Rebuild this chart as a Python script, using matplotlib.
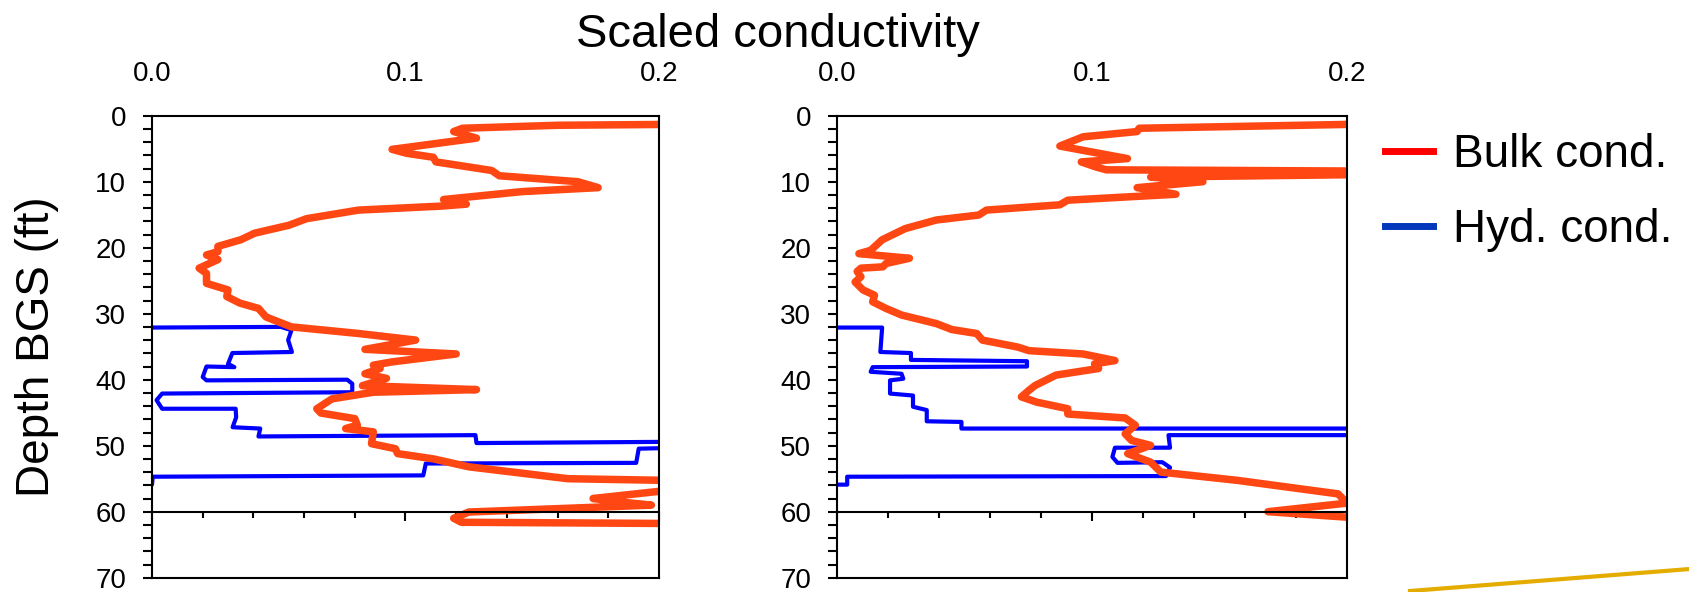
import matplotlib.pyplot as plt
from matplotlib.lines import Line2D
from matplotlib.ticker import MultipleLocator, FormatStrFormatter

plt.rcParams['font.family'] = ['Liberation Sans', 'DejaVu Sans']

# left log
left_bulk_x = [0.21, 0.16, 0.1225, 0.119, 0.128, 0.0947, 0.1005, 0.111, 0.112, 0.134,
               0.137, 0.168, 0.176, 0.146, 0.115, 0.124, 0.114, 0.0815, 0.061, 0.054,
               0.0405, 0.035, 0.026, 0.026, 0.0215, 0.026, 0.0186, 0.0215, 0.0215, 0.030,
               0.0295, 0.0347, 0.042, 0.045, 0.055, 0.0815, 0.104, 0.084, 0.120, 0.0947,
               0.0873, 0.090, 0.084, 0.0925, 0.083, 0.128, 0.0873, 0.071, 0.065, 0.0666,
               0.080, 0.081, 0.0764, 0.0873, 0.0866, 0.096, 0.0969, 0.111, 0.125, 0.164,
               0.21, 0.21, 0.174, 0.184, 0.197, 0.125, 0.119, 0.122, 0.21]
left_bulk_depth = [1.3, 1.45, 1.9, 2.4, 3.4, 5.1, 5.7, 6.3, 7.0, 8.3,
                   9.1, 10.0, 10.9, 11.5, 12.7, 13.4, 13.7, 14.3, 15.6, 16.6,
                   17.8, 18.8, 19.8, 20.6, 21.1, 21.8, 23.1, 23.9, 25.4, 26.4,
                   27.4, 28.4, 29.2, 30.5, 32.0, 33.0, 34.0, 35.4, 36.1, 37.3,
                   37.8, 38.3, 39.1, 39.8, 40.9, 41.5, 41.9, 42.9, 44.4, 45.05,
                   45.9, 46.9, 47.4, 47.9, 49.7, 50.45, 51.2, 52.0, 53.2, 55.0,
                   55.3, 56.5, 58.0, 58.5, 59.0, 60.05, 61.0, 61.6, 61.8]
left_hyd_x = [0.0, 0.0508, 0.055, 0.0537, 0.0552, 0.0317, 0.030, 0.0325, 0.0215, 0.020,
              0.0215, 0.077, 0.079, 0.079, 0.004, 0.0018, 0.004, 0.033, 0.0332, 0.0318,
              0.0427, 0.042, 0.1276, 0.128, 0.21, 0.21, 0.192, 0.191, 0.108, 0.107,
              0.0003, 0.0]
left_hyd_depth = [32.1, 32.0, 32.5, 34.0, 35.8, 35.96, 37.6, 38.1, 38.0, 39.6,
                  40.1, 40.0, 40.6, 41.9, 42.1, 43.1, 44.4, 44.4, 45.7, 47.2,
                  47.4, 48.6, 48.4, 49.6, 49.4, 50.3, 50.45, 52.6, 52.7, 54.5,
                  54.7, 55.9]

# right log
right_bulk_x = [0.21, 0.1185, 0.1177, 0.0965, 0.0874, 0.1139, 0.0958, 0.101, 0.1056, 0.21,
                0.21, 0.123, 0.1435, 0.1177, 0.1329, 0.0905, 0.0874, 0.0586, 0.0556, 0.039,
                0.0268, 0.0177, 0.0132, 0.0086, 0.0284, 0.0192, 0.018, 0.0094, 0.0079, 0.0094,
                0.0071, 0.0102, 0.0147, 0.014, 0.0192, 0.0253, 0.039, 0.045, 0.0548, 0.057,
                0.0708, 0.0753, 0.0965, 0.109, 0.101, 0.1026, 0.0859, 0.0776, 0.0753, 0.0723,
                0.0783, 0.0905, 0.0905, 0.113, 0.117, 0.113, 0.1155, 0.123, 0.114, 0.123,
                0.127, 0.157, 0.1965, 0.2, 0.169, 0.21]
right_bulk_depth = [1.25, 1.9, 2.4, 3.2, 4.6, 6.5, 7.0, 7.7, 8.2, 8.4,
                    8.9, 9.3, 10.0, 10.9, 11.9, 12.8, 13.5, 14.3, 15.05, 15.8,
                    17.1, 18.8, 20.4, 20.9, 21.6, 22.4, 22.9, 23.1, 23.6, 24.4,
                    25.2, 26.4, 27.2, 28.2, 29.2, 30.2, 31.5, 32.4, 33.0, 34.0,
                    35.05, 35.6, 36.1, 37.1, 37.6, 38.3, 39.3, 40.9, 41.6, 42.6,
                    43.4, 44.4, 45.2, 45.8, 46.9, 48.2, 49.2, 49.95, 51.2, 52.5,
                    54.0, 55.25, 57.3, 58.7, 60.0, 61.1]
right_hyd_x = [0.0, 0.0177, 0.017, 0.029, 0.029, 0.0745, 0.0745, 0.014, 0.0132, 0.0253,
               0.026, 0.0208, 0.0208, 0.0298, 0.0298, 0.0352, 0.0352, 0.0488, 0.0488, 0.21,
               0.21, 0.13, 0.1306, 0.109, 0.108, 0.110, 0.1276, 0.1306, 0.129, 0.004,
               0.004, 0.0]
right_hyd_depth = [32.1, 32.1, 35.8, 35.96, 37.0, 37.2, 38.0, 38.1, 38.8, 39.1,
                   39.85, 40.1, 42.1, 42.4, 44.1, 44.6, 46.3, 46.4, 47.4, 47.4,
                   48.4, 48.4, 50.3, 50.3, 51.7, 52.6, 52.5, 53.3, 54.6, 54.7,
                   55.9, 55.9]

legend_labels = ['Bulk cond.', 'Hyd. cond.']
yellow_x = [1410 / 1690, 1.0]
yellow_y = [1 - 591 / 592, 1 - 569 / 592]

fig = plt.figure(figsize=(16.9, 5.92), dpi=100)
ax1 = fig.add_axes([152 / 1690, 14.3 / 592, 507 / 1690, 462 / 592])
ax2 = fig.add_axes([837 / 1690, 14.3 / 592, 510 / 1690, 462 / 592])

logs = [(ax1, left_bulk_x, left_bulk_depth, left_hyd_x, left_hyd_depth),
        (ax2, right_bulk_x, right_bulk_depth, right_hyd_x, right_hyd_depth)]
for ax, bx, bd, hx, hd in logs:
    ax.plot(hx, hd, color='#0000FF', lw=3, solid_joinstyle='round', solid_capstyle='round')
    ax.plot(bx, bd, color='#FF4713', lw=5.4, solid_joinstyle='round', solid_capstyle='round')
    ax.set_xlim(0, 0.2)
    ax.set_ylim(70, 0)
    ax.xaxis.set_major_locator(MultipleLocator(0.1))
    ax.xaxis.set_minor_locator(MultipleLocator(0.02))
    ax.xaxis.set_major_formatter(FormatStrFormatter('%.1f'))
    ax.yaxis.set_major_locator(MultipleLocator(10))
    ax.yaxis.set_minor_locator(MultipleLocator(2))
    for s in ax.spines.values():
        s.set_linewidth(1.5)
    ax.spines['bottom'].set_position(('data', 60))  # x axis crosses at 60 ft
    ax.axhline(70, color='k', lw=1.5, clip_on=False)
    ax.tick_params(axis='x', which='both', direction='out', top=False, bottom=True,
                   labeltop=True, labelbottom=False, width=1.5)
    ax.tick_params(axis='x', which='major', length=6.5, pad=14, labelsize=20)
    ax.tick_params(axis='x', which='minor', length=4.5)
    ax.tick_params(axis='y', which='both', direction='out', left=True, right=False,
                   length=6.5, width=1.5, labelsize=20, pad=12)

fig.text(778 / 1690, 1 - 47.4 / 592, 'Scaled conductivity', ha='center', va='baseline', fontsize=34)
fig.text(37 / 1690, 1 - 346.7 / 592, 'Depth BGS (ft)', rotation=90, ha='center', va='center', fontsize=33)

handles = [Line2D([], [], color='#FF0000', lw=5), Line2D([], [], color='#0038BC', lw=5)]
fig.legend(handles=handles, labels=legend_labels, loc='upper left',
           bbox_to_anchor=(1385 / 1690, 1 - 133 / 592), frameon=False, fontsize=33,
           handlelength=1.05, handletextpad=0.44, labelspacing=0.68,
           borderpad=0, borderaxespad=0)

fig.add_artist(Line2D(yellow_x, yellow_y, color='#E5AC00', lw=3, transform=fig.transFigure))

fig.savefig('out.png', dpi=100)
